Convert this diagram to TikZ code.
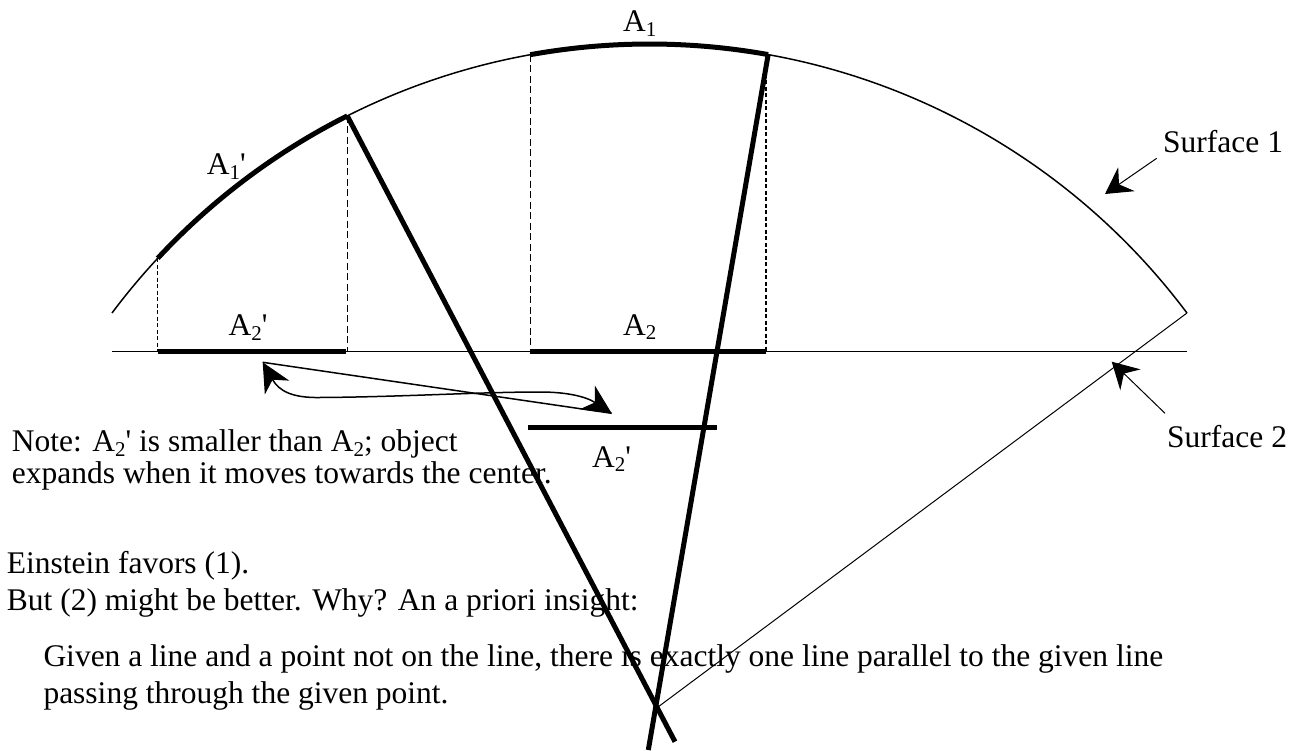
\documentclass[tikz,border=0pt]{standalone}
\usepackage{fontspec}
\setmainfont{Liberation Serif}
\usetikzlibrary{arrows.meta}
\newcommand\lowsub[1]{\raisebox{-0.15em}{\fontsize{21}{21}\selectfont #1}}
\begin{document}
\begin{tikzpicture}[x=1pt,y=-1pt,
  thinln/.style={line width=1.5pt},
  hairln/.style={line width=1pt},
  thickln/.style={line width=5pt},
  dashA/.style={line width=1.4pt, dash pattern=on 7pt off 3.5pt},
  dashB/.style={line width=1.4pt, dash pattern=on 4pt off 2.5pt},
  lbl/.style={inner sep=0pt, anchor=base west, font=\fontsize{31.5}{36}\selectfont},
  bigtip/.style={-{Stealth[length=26pt,width=29pt,inset=9pt]}},
  dbltip/.style={{Stealth[length=29pt,width=28pt,inset=9pt]}-{Stealth[length=29pt,width=28pt,inset=9pt]}}
]
\useasboundingbox (0,0) rectangle (1304,751);
% geometry
\coordinate (O) at (649.5,715.5);
\coordinate (arcL) at (112,313);
\coordinate (V) at (658,707);
\coordinate (arcR) at (1187,313);
\coordinate (hL) at (112,351.5);
\coordinate (hR) at (1187,351.5);
\coordinate (p1s) at ([shift={(-137.08:671.5)}]O);
\coordinate (p1e) at ([shift={(-116.75:671.5)}]O);
\coordinate (q1s) at ([shift={(-100.23:671.5)}]O);
\coordinate (q1e) at ([shift={(-79.82:671.5)}]O);
\coordinate (q1d) at (766,54.2);
\coordinate (leftEnd) at (675,741.7);
\coordinate (rightEnd) at (648.3,750);
% surface 1 (arc)
\draw[thinln] (arcL) arc[start angle=-143.17, end angle=-36.83, radius=671.5];
\draw[thickln] (p1s) arc[start angle=-137.08, end angle=-116.75, radius=671.5];
\draw[thickln] (q1s) arc[start angle=-100.23, end angle=-79.82, radius=671.5];
% surface 2 (flat line) and its edge
\draw[thinln] (hL) -- (hR);
\draw[hairln] (arcR) -- (V);
% projections
\draw[dashB] (p1s) -- (p1s |- hL);
\draw[dashA] (p1e) -- (p1e |- hL);
\draw[dashA] (q1s) -- (q1s |- hL);
\draw[dashB] (q1d) -- (q1d |- hL);
% projected segments
\draw[thickln] (p1s |- hL) -- (345.7,351.5);
\draw[thickln] (q1s |- hL) -- (q1d |- hL);
\coordinate (m1) at (528,427.3);
\coordinate (m2) at (717,427.3);
\draw[thickln] (m1) -- (m2);
% radial lines
\draw[thickln] (p1e) -- (leftEnd);
\draw[thickln] (q1e) -- (rightEnd);
% motion arrows
\coordinate (tL) at (262.7,362.3);
\coordinate (tR) at (611.7,413.3);
\draw[thinln] (tL) -- (tR);
\draw[thinln, dbltip] (tL) .. controls (279,391) and (292,398) .. (320,397.5)
   .. controls (400,397) and (480,392) .. (540,392)
   .. controls (565,392) and (585,396) .. (tR);
% surface labels
\coordinate (s1tail) at (1156.7,158.3);
\coordinate (s1tip) at (1105,194);
\coordinate (s2tail) at (1165,413.3);
\coordinate (s2tip) at (1111.7,361.7);
\draw[hairln, bigtip] (s1tail) -- (s1tip);
\draw[hairln, bigtip] (s2tail) -- (s2tip);
\node[lbl] (surf1) at (1163,152.7) {Surface 1};
\node[lbl] (surf2) at (1167,447) {Surface 2};
% segment labels
\node[lbl] (lA1) at (623,31.7) {A\lowsub{1}};
\node[lbl] (lA1p) at (206.7,175) {A\lowsub{1}\textquotesingle};
\node[lbl] (lA2p) at (228.3,336) {A\lowsub{2}\textquotesingle};
\node[lbl] (lA2) at (623,335) {A\lowsub{2}};
\node[lbl] (lA2m) at (592,467) {A\lowsub{2}\textquotesingle};
% text (base anchor = baseline of the last line)
\node[lbl, align=left, font=\fontsize{31.5}{31.6}\selectfont] (note) at (11.7,483.3)
  {Note: A\lowsub{2}\textquotesingle{} is smaller than A\lowsub{2}; object\\expands when it moves towards the center.};
\node[lbl, align=left, font=\fontsize{31.5}{37}\selectfont] (t1) at (6.7,610.3)
  {Einstein favors (1).\\But (2) might be better. Why? An a priori insight:};
\node[lbl, align=left, font=\fontsize{31.5}{36.8}\selectfont] (t3) at (43.3,703.3)
  {Given a line and a point not on the line, there is exactly one line parallel to the given line\\passing through the given point.};
\end{tikzpicture}
\end{document}
